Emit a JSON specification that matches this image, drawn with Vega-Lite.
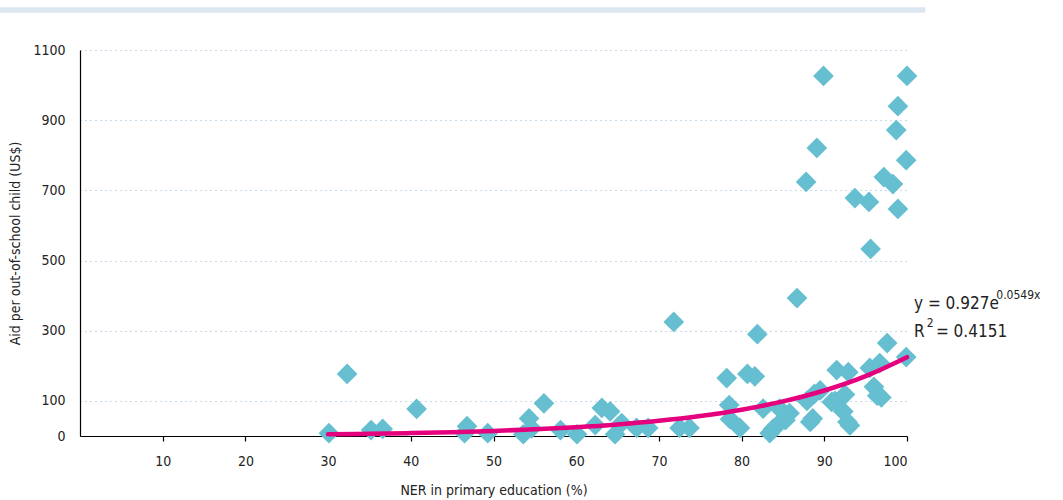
{
  "$schema": "https://vega.github.io/schema/vega-lite/v6.json",
  "width": 827,
  "height": 386,
  "autosize": {"type": "none"},
  "padding": {"left": 80, "top": 50, "right": 156, "bottom": 64},
  "background": "white",
  "config": {
    "view": {"stroke": null},
    "font": "DejaVu Sans Condensed, Roboto, sans-serif",
    "axis": {
      "labelFont": "DejaVu Sans Condensed, Roboto, sans-serif",
      "titleFont": "DejaVu Sans Condensed, Roboto, sans-serif",
      "labelFontSize": 14,
      "titleFontSize": 14,
      "titleFontWeight": "normal",
      "labelColor": "#222222",
      "titleColor": "#222222",
      "domainColor": "#000000",
      "tickColor": "#000000"
    }
  },
  "datasets": {
    "countries": [
      {"ner": 30.1, "aid": 8}, {"ner": 32.3, "aid": 177}, {"ner": 35.2, "aid": 17}, {"ner": 36.6, "aid": 20},
      {"ner": 40.7, "aid": 77}, {"ner": 46.8, "aid": 28}, {"ner": 46.5, "aid": 8}, {"ner": 49.3, "aid": 8},
      {"ner": 53.6, "aid": 5}, {"ner": 54.3, "aid": 50}, {"ner": 54.6, "aid": 22}, {"ner": 56.1, "aid": 93},
      {"ner": 58.1, "aid": 17}, {"ner": 60.1, "aid": 5}, {"ner": 62.3, "aid": 31}, {"ner": 63.1, "aid": 80},
      {"ner": 64.1, "aid": 70}, {"ner": 64.7, "aid": 5}, {"ner": 65.5, "aid": 37}, {"ner": 67.3, "aid": 23},
      {"ner": 68.7, "aid": 23}, {"ner": 71.8, "aid": 325}, {"ner": 72.5, "aid": 23}, {"ner": 73.7, "aid": 23},
      {"ner": 78.2, "aid": 165}, {"ner": 78.5, "aid": 88}, {"ner": 78.6, "aid": 48}, {"ner": 79.8, "aid": 23},
      {"ner": 80.7, "aid": 177}, {"ner": 81.6, "aid": 170}, {"ner": 81.9, "aid": 290}, {"ner": 82.6, "aid": 78},
      {"ner": 83.4, "aid": 8}, {"ner": 83.8, "aid": 20}, {"ner": 84.6, "aid": 78}, {"ner": 84.3, "aid": 30},
      {"ner": 85.3, "aid": 45}, {"ner": 85.8, "aid": 65}, {"ner": 86.7, "aid": 393}, {"ner": 87.8, "aid": 724},
      {"ner": 87.9, "aid": 100}, {"ner": 88.3, "aid": 40}, {"ner": 88.6, "aid": 50}, {"ner": 88.8, "aid": 120},
      {"ner": 89.1, "aid": 821}, {"ner": 89.9, "aid": 1026}, {"ner": 89.5, "aid": 130}, {"ner": 90.9, "aid": 97},
      {"ner": 91.3, "aid": 100}, {"ner": 91.5, "aid": 188}, {"ner": 92.3, "aid": 70}, {"ner": 92.5, "aid": 118},
      {"ner": 92.9, "aid": 182}, {"ner": 92.8, "aid": 40}, {"ner": 93.1, "aid": 30}, {"ner": 93.7, "aid": 678},
      {"ner": 95.4, "aid": 667}, {"ner": 95.5, "aid": 194}, {"ner": 95.6, "aid": 533}, {"ner": 96.0, "aid": 140},
      {"ner": 96.7, "aid": 208}, {"ner": 96.9, "aid": 110}, {"ner": 96.4, "aid": 115}, {"ner": 97.2, "aid": 738},
      {"ner": 97.6, "aid": 265}, {"ner": 98.3, "aid": 718}, {"ner": 98.7, "aid": 872}, {"ner": 98.9, "aid": 940},
      {"ner": 98.9, "aid": 647}, {"ner": 99.9, "aid": 786}, {"ner": 100, "aid": 1026}, {"ner": 99.9, "aid": 225}
    ],
    "trend": [
      {"ner": 30, "aid": 4.81}, {"ner": 35, "aid": 6.33}, {"ner": 40, "aid": 8.33}, {"ner": 45, "aid": 10.97},
      {"ner": 50, "aid": 14.43}, {"ner": 55, "aid": 18.99}, {"ner": 60, "aid": 24.98}, {"ner": 65, "aid": 32.87},
      {"ner": 70, "aid": 43.26}, {"ner": 75, "aid": 56.93}, {"ner": 80, "aid": 74.91}, {"ner": 85, "aid": 98.57},
      {"ner": 90, "aid": 129.7}, {"ner": 95, "aid": 170.7}, {"ner": 100, "aid": 224.6}
    ]
  },
  "layer": [
    {
      "data": {"values": [{"x0": -9.7, "x1": 102.2, "y0": 1206, "y1": 1222}]},
      "mark": {"type": "rect", "color": "#dce6f0"},
      "encoding": {
        "x": {"field": "x0", "type": "quantitative"},
        "x2": {"field": "x1"},
        "y": {"field": "y0", "type": "quantitative"},
        "y2": {"field": "y1"}
      }
    },
    {
      "data": {"name": "countries"},
      "mark": {"type": "point", "shape": "diamond", "filled": true, "size": 430, "color": "#65bfd0", "opacity": 1},
      "encoding": {
        "x": {
          "field": "ner", "type": "quantitative",
          "scale": {"domain": [0, 100], "nice": false},
          "axis": {
            "title": "NER  in primary education (%)",
            "values": [10, 20, 30, 40, 50, 60, 70, 80, 90, 100],
            "grid": false, "tickSize": 5, "labelPadding": 13, "titlePadding": 15,
            "domainWidth": 1.2, "tickWidth": 1.2
          }
        },
        "y": {
          "field": "aid", "type": "quantitative",
          "scale": {"domain": [0, 1100], "nice": false},
          "axis": {
            "title": "Aid per out-of-school child (US$)",
            "values": [0, 100, 300, 500, 700, 900, 1100],
            "format": "d",
            "ticks": false, "labelPadding": 15, "titlePadding": 10,
            "grid": true, "gridColor": "#8db6d8", "gridDash": [1, 4], "gridWidth": 1.2,
            "domainWidth": 1.2
          }
        }
      }
    },
    {
      "data": {"name": "trend"},
      "mark": {"type": "line", "color": "#e5007d", "strokeWidth": 4.5, "interpolate": "monotone", "strokeCap": "round"},
      "encoding": {
        "x": {"field": "ner", "type": "quantitative"},
        "y": {"field": "aid", "type": "quantitative"}
      }
    },
    {
      "data": {"values": [
        {"x": 100.85, "y": 376, "label": "y = 0.927e", "part": "main"},
        {"x": 100.85, "y": 296, "label": "R", "part": "main"},
        {"x": 103.5, "y": 296, "label": "= 0.4151", "part": "main"},
        {"x": 110.8, "y": 401, "label": "0.0549x", "part": "sup"},
        {"x": 102.4, "y": 323, "label": "2", "part": "sup"}
      ]},
      "mark": {"type": "text", "align": "left", "baseline": "middle", "color": "#222222"},
      "encoding": {
        "x": {"field": "x", "type": "quantitative"},
        "y": {"field": "y", "type": "quantitative"},
        "text": {"field": "label"},
        "size": {
          "field": "part", "type": "nominal",
          "scale": {"domain": ["main", "sup"], "range": [17, 12]},
          "legend": null
        }
      }
    }
  ]
}
